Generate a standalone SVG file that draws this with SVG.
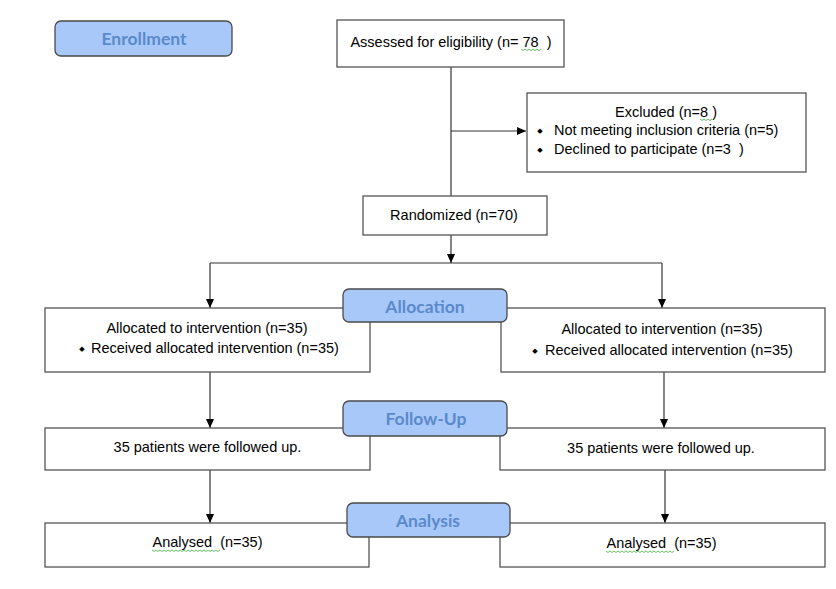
<svg xmlns="http://www.w3.org/2000/svg" width="836" height="589" viewBox="0 0 836 589">
<style>
text{white-space:pre}
.box{fill:#fff;stroke:#555;stroke-width:1.3}
.lbl{fill:#a8c8fa;stroke:#4a4a4a;stroke-width:1.3}
.lt{font-family:Lato,"Open Sans",sans-serif;font-weight:bold;font-size:17.5px;fill:#5b8acb;text-anchor:middle}
.t{font-family:"Liberation Sans",Arial,sans-serif;font-size:14.5px;fill:#000}
.m{text-anchor:middle}
.b{font-family:"DejaVu Sans",sans-serif;font-size:7px;fill:#000;text-anchor:middle}
.c{fill:none;stroke:#333;stroke-width:1.2}
.w{fill:none;stroke:#3fae3f;stroke-width:0.8}
</style>
<defs>
<marker id="ah" markerWidth="10" markerHeight="10" refX="9" refY="5" orient="auto" markerUnits="userSpaceOnUse">
<path d="M0,1 L9,5 L0,9 Z" fill="#000"/>
</marker>
</defs>
<rect width="836" height="589" fill="#fff"/>

<g id="connectors">
<path class="c" d="M451,67 V196"/>
<path class="c" d="M451,131 H526" marker-end="url(#ah)"/>
<path class="c" d="M451,235 V263" marker-end="url(#ah)"/>
<path class="c" d="M210,263 H662"/>
<path class="c" d="M210,263 V308" marker-end="url(#ah)"/>
<path class="c" d="M662,263 V308" marker-end="url(#ah)"/>
<path class="c" d="M210,372 V428" marker-end="url(#ah)"/>
<path class="c" d="M664,372 V428" marker-end="url(#ah)"/>
<path class="c" d="M210,470 V523" marker-end="url(#ah)"/>
<path class="c" d="M665,470 V523" marker-end="url(#ah)"/>
</g>

<g id="assessed">
<rect class="box" x="337" y="20" width="227" height="47"/>
<text class="t m" x="451" y="46.5">Assessed for eligibility (n= 78  )</text>
<path class="w" d="M521,49 l2,1.5 l2,-1.5 l2,1.5 l2,-1.5 l2,1.5 l2,-1.5 l2,1.5 l2,-1.5 l2,1.5 l2,-1.5"/>
</g>

<g id="excluded">
<rect class="box" x="527" y="93" width="279" height="79"/>
<text class="t m" x="666" y="116.5">Excluded (n=8 )</text>
<path class="w" d="M700,119 l2,1.5 l2,-1.5 l2,1.5 l2,-1.5 l2,1.5 l2,-1.5"/>
<text class="b" x="540" y="133">◆</text>
<text class="t" x="554" y="135">Not meeting inclusion criteria (n=5)</text>
<text class="b" x="540" y="151.5">◆</text>
<text class="t" x="554" y="153.5">Declined to participate (n=3  )</text>
</g>

<g id="randomized">
<rect class="box" x="363" y="196" width="184" height="39"/>
<text class="t m" x="454" y="220">Randomized (n=70)</text>
</g>

<g id="alloc-left">
<rect class="box" x="45" y="308" width="325" height="64"/>
<text class="t m" x="207" y="332.5">Allocated to intervention (n=35)</text>
<text class="b" x="82" y="350.5">◆</text>
<text class="t" x="91" y="352.5">Received allocated intervention (n=35)</text>
</g>

<g id="alloc-right">
<rect class="box" x="501" y="308" width="324" height="64"/>
<text class="t m" x="662" y="334">Allocated to intervention (n=35)</text>
<text class="b" x="535" y="352.5">◆</text>
<text class="t" x="545" y="354.5">Received allocated intervention (n=35)</text>
</g>

<g id="follow-left">
<rect class="box" x="45" y="428" width="325" height="42"/>
<text class="t m" x="207.5" y="452">35 patients were followed up.</text>
</g>

<g id="follow-right">
<rect class="box" x="500" y="428" width="325" height="42"/>
<text class="t m" x="661" y="452.5">35 patients were followed up.</text>
</g>

<g id="analysis-left">
<rect class="box" x="45" y="523" width="324" height="44"/>
<text class="t m" x="207.5" y="547">Analysed  (n=35)</text>
<path class="w" d="M152,550 l2,1.5 l2,-1.5 l2,1.5 l2,-1.5 l2,1.5 l2,-1.5 l2,1.5 l2,-1.5 l2,1.5 l2,-1.5 l2,1.5 l2,-1.5 l2,1.5 l2,-1.5 l2,1.5 l2,-1.5 l2,1.5 l2,-1.5 l2,1.5 l2,-1.5 l2,1.5 l2,-1.5 l2,1.5 l2,-1.5 l2,1.5 l2,-1.5 l2,1.5 l2,-1.5 l2,1.5 l2,-1.5 l2,1.5 l2,-1.5 l2,1.5 l2,-1.5"/>
</g>

<g id="analysis-right">
<rect class="box" x="500" y="523" width="325" height="44"/>
<text class="t m" x="661.5" y="548">Analysed  (n=35)</text>
<path class="w" d="M606,551 l2,1.5 l2,-1.5 l2,1.5 l2,-1.5 l2,1.5 l2,-1.5 l2,1.5 l2,-1.5 l2,1.5 l2,-1.5 l2,1.5 l2,-1.5 l2,1.5 l2,-1.5 l2,1.5 l2,-1.5 l2,1.5 l2,-1.5 l2,1.5 l2,-1.5 l2,1.5 l2,-1.5 l2,1.5 l2,-1.5 l2,1.5 l2,-1.5 l2,1.5 l2,-1.5 l2,1.5 l2,-1.5 l2,1.5 l2,-1.5 l2,1.5 l2,-1.5"/>
</g>

<g id="enrollment">
<rect class="lbl" x="55" y="21" width="177" height="35" rx="6"/>
<text class="lt" x="144" y="45">Enrollment</text>
</g>

<g id="allocation">
<rect class="lbl" x="343" y="289" width="164" height="33" rx="6"/>
<text class="lt" x="425" y="313">Allocation</text>
</g>

<g id="follow-up">
<rect class="lbl" x="343" y="401" width="164" height="35" rx="6"/>
<text class="lt" x="426" y="425">Follow-Up</text>
</g>

<g id="analysis">
<rect class="lbl" x="347" y="503" width="163" height="34" rx="6"/>
<text class="lt" x="428" y="527">Analysis</text>
</g>
</svg>
